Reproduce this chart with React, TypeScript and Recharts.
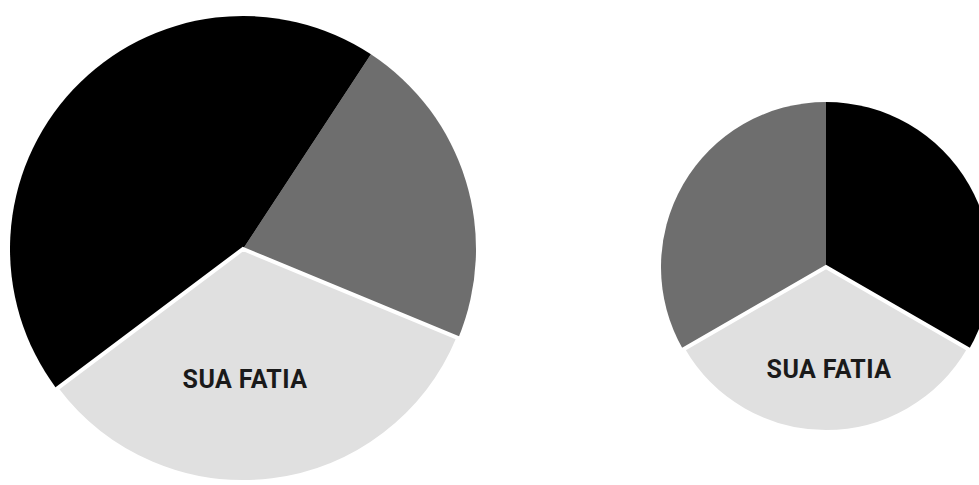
import React from 'react';
import { PieChart, Pie, Cell } from 'recharts';

// Left pie (counter-clockwise from the gray/light border)
const leftNames = ['outros A', 'outros B', 'SUA FATIA'];
const leftValues = [22, 44.5, 33.5];
// Right pie
const rightNames = ['outros A', 'outros B', 'SUA FATIA'];
const rightValues = [33.3, 33.3, 33.3];

const leftColors = ['#6e6e6e', '#000000', '#e0e0e0'];
const rightColors = ['#000000', '#6e6e6e', '#e0e0e0'];
const highlightLabel = 'SUA FATIA';

const leftData = leftNames.map((name, i) => ({ name, value: leftValues[i] }));
const rightData = rightNames.map((name, i) => ({ name, value: rightValues[i] }));

const makeLabel = (dx: number, frac: number) => (props: any) => {
  const { cx, cy, outerRadius, index } = props;
  if (index !== 2) return null;
  return (
    <text
      x={cx + dx}
      y={cy + outerRadius * frac}
      textAnchor="middle"
      fill="#1a1a1a"
      style={{ fontFamily: 'Roboto, sans-serif', fontWeight: 700, fontSize: 25, letterSpacing: 0.4 }}
    >
      {highlightLabel}
    </text>
  );
};

export default function App() {
  return (
    <div style={{ position: 'absolute', left: 0, top: 0, width: 979, height: 485, background: '#fff' }}>
      <PieChart width={979} height={485} margin={{ top: 0, right: 0, bottom: 0, left: 0 }}>
        <Pie
          data={leftData}
          dataKey="value"
          nameKey="name"
          cx={243}
          cy={249}
          outerRadius={233}
          startAngle={-22.5}
          endAngle={337.5}
          isAnimationActive={false}
          labelLine={false}
          label={makeLabel(2, 0.597)}
        >
          {leftData.map((d, i) => (
            <Cell
              key={d.name + i}
              fill={leftColors[i]}
              stroke={i === 2 ? '#ffffff' : 'none'}
              strokeWidth={i === 2 ? 4 : 0}
            />
          ))}
        </Pie>
        <Pie
          data={rightData}
          dataKey="value"
          nameKey="name"
          cx={826}
          cy={267}
          outerRadius={165}
          startAngle={-30}
          endAngle={330}
          isAnimationActive={false}
          labelLine={false}
          label={makeLabel(3, 0.673)}
        >
          {rightData.map((d, i) => (
            <Cell
              key={d.name + i}
              fill={rightColors[i]}
              stroke={i === 2 ? '#ffffff' : 'none'}
              strokeWidth={i === 2 ? 4 : 0}
            />
          ))}
        </Pie>
      </PieChart>
    </div>
  );
}
